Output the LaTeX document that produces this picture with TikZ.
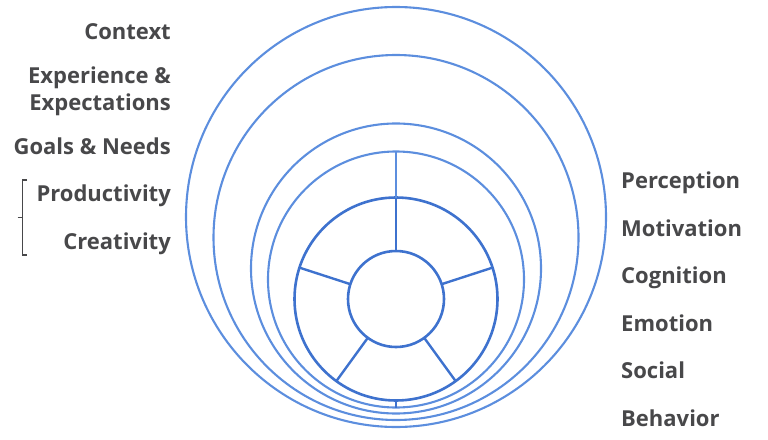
\documentclass[tikz,border=0pt]{standalone}
\usepackage{fontspec}
\setmainfont{Open Sans}
\definecolor{outerblue}{RGB}{92,142,222}
\definecolor{innerblue}{RGB}{62,114,206}
\definecolor{labgray}{RGB}{72,72,74}
\begin{document}
\begin{tikzpicture}[x=1pt,y=-1pt,
  ring/.style={circle,draw=outerblue,line width=2.1pt,inner sep=0,outer sep=0},
  core/.style={circle,draw=innerblue,line width=2.6pt,inner sep=0,outer sep=0},
  spoke/.style={draw=innerblue,line width=2.4pt},
  lab/.style={font=\fontsize{22}{26}\selectfont\bfseries,text=labgray,inner sep=0},
  leftlab/.style={lab,anchor=base east},
  rightlab/.style={lab,anchor=base west},
  brace/.style={draw=labgray,line width=1.8pt}]
\useasboundingbox (0,0) rectangle (768,439);
% circles
\node[ring,minimum size=420pt] (c1) at (396,217) {};
\node[ring,minimum size=365pt] (c2) at (396,237.5) {};
\node[ring,minimum size=290pt] (c3) at (396,268.5) {};
\node[ring,minimum size=256pt] (c4) at (396,279.5) {};
\node[core,minimum size=203pt] (r5) at (396,299) {};
\node[core,minimum size=96pt] (in) at (396,299) {};
% spokes
\draw[spoke,draw=outerblue] (in.90) -- (c4.90);
\draw[spoke] (in.90) -- (r5.90);
\draw[spoke] (r5.270) -- (c4.270);
\draw[spoke] (in.18) -- (r5.18);
\draw[spoke] (in.162) -- (r5.162);
\draw[spoke] (in.-54) -- (r5.-54);
\draw[spoke] (in.234) -- (r5.234);
% left labels
\node[leftlab] (ctx) at (171,39.5) {Context};
\node[leftlab] (exp1) at (171,83.5) {Experience \&};
\node[leftlab] (exp2) at (171,110.5) {Expectations};
\node[leftlab] (goals) at (171,154.5) {Goals \& Needs};
\node[leftlab] (prod) at (171,201.5) {Productivity};
\node[leftlab] (crea) at (171,249) {Creativity};
% bracket
\coordinate (bt) at (27,180);
\coordinate (bb) at (27,255);
\coordinate (bm) at (17.5,217.5);
\draw[brace] (bt) -- (22.5,180) -- (22.5,255) -- (bb);
\draw[brace] (bm) -- (22.5,217.5);
% right labels
\node[rightlab] (perc) at (621,188.5) {Perception};
\node[rightlab] (moti) at (621,236) {Motivation};
\node[rightlab] (cogn) at (621,283.5) {Cognition};
\node[rightlab] (emot) at (621,331) {Emotion};
\node[rightlab] (soci) at (621,378.5) {Social};
\node[rightlab] (beha) at (621,426) {Behavior};
\end{tikzpicture}
\end{document}
